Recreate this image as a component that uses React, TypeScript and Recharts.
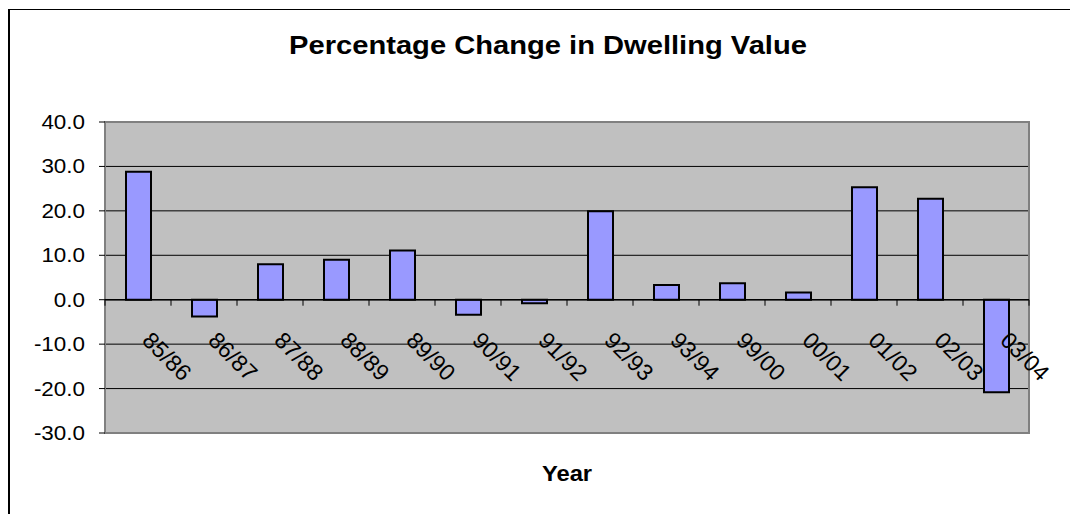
import React from 'react';
import {
  BarChart, Bar, XAxis, YAxis, CartesianGrid, ReferenceLine, ReferenceArea
} from 'recharts';

// Year-on-year percentage change in dwelling value
const years = ['85/86', '86/87', '87/88', '88/89', '89/90', '90/91', '91/92', '92/93', '93/94', '99/00', '00/01', '01/02', '02/03', '03/04'];
const changes = [28.8, -3.8, 8.0, 9.0, 11.1, -3.4, -0.8, 19.9, 3.3, 3.7, 1.6, 25.3, 22.7, -20.8];
const yTicks = [-30, -20, -10, 0, 10, 20, 30, 40];

const data = years.map((year, i) => ({ year, change: changes[i] }));

const FONT = '"Liberation Sans", Arial, sans-serif';
const CHART_W = 1070;
const CHART_H = 506;
const MARGIN = { top: 114, right: 49, bottom: 0, left: 0 };
const Y_AXIS_W = 97;
const X_AXIS_H = 81;
const PLOT_W = CHART_W - MARGIN.left - MARGIN.right - Y_AXIS_W;
const PLOT_H = CHART_H - MARGIN.top - MARGIN.bottom - X_AXIS_H;
const Y_MIN = yTicks[0];
const Y_MAX = yTicks[yTicks.length - 1];
// y of the zero line, where the category axis crosses
const ZERO_Y = MARGIN.top + (Y_MAX / (Y_MAX - Y_MIN)) * PLOT_H;
const BAND = PLOT_W / years.length;
const STRETCH = 1.15;

const YTick = ({ x, y, payload }: any) => (
  <text
    transform={`translate(${x},${y}) scale(${STRETCH},1)`}
    textAnchor="end"
    dominantBaseline="central"
    fontSize={19.5}
    fontFamily={FONT}
    fill="#000"
  >
    {Number(payload.value).toFixed(1)}
  </text>
);

// category labels hang off the zero line, with tick marks between categories
const XTick = ({ x, payload, index }: any) => {
  const left = x - BAND / 2;
  const right = x + BAND / 2;
  return (
    <g>
      <line x1={left} x2={left} y1={ZERO_Y} y2={ZERO_Y + 6} stroke="#000" />
      {index === years.length - 1 && (
        <line x1={right} x2={right} y1={ZERO_Y} y2={ZERO_Y + 6} stroke="#000" />
      )}
      <text
        transform={`translate(${x + 3},${ZERO_Y + 42}) rotate(45)`}
        textAnchor="start"
        fontSize={23}
        fontFamily={FONT}
        fill="#000"
      >
        {payload.value}
      </text>
    </g>
  );
};

export default function App() {
  return (
    <div style={{ position: 'relative', width: CHART_W, height: CHART_H, background: '#fff' }}>
      <div
        style={{
          position: 'absolute', left: 0, top: 1, width: 2, height: CHART_H - 1,
          background: '#000', zIndex: 2, pointerEvents: 'none'
        }}
      />
      <div
        style={{
          position: 'absolute', left: 0, top: 1, width: CHART_W, height: 1,
          background: '#000', zIndex: 2, pointerEvents: 'none'
        }}
      />
      <div
        style={{
          position: 'absolute', left: 539.5, top: 24, whiteSpace: 'nowrap',
          transform: `translateX(-50%) scaleX(1.12)`,
          fontFamily: FONT, fontWeight: 'bold', fontSize: 26, lineHeight: '26px'
        }}
      >
        Percentage Change in Dwelling Value
      </div>
      <BarChart width={CHART_W} height={CHART_H} data={data} margin={MARGIN} barSize={25}>
        <CartesianGrid vertical={false} stroke="#000" fill="#c0c0c0" fillOpacity={1} />
        <ReferenceArea y1={Y_MIN} y2={Y_MAX} fill="none" stroke="#808080" strokeWidth={2} ifOverflow="visible" />
        <XAxis
          dataKey="year"
          height={X_AXIS_H}
          interval={0}
          axisLine={false}
          tickLine={false}
          tick={<XTick />}
        />
        <YAxis
          width={Y_AXIS_W}
          domain={[Y_MIN, Y_MAX]}
          ticks={yTicks}
          axisLine={false}
          tickLine={{ stroke: '#000' }}
          tickSize={6}
          tickMargin={14}
          tick={<YTick />}
        />
        <ReferenceLine y={0} stroke="#000" strokeWidth={1.5} />
        <Bar dataKey="change" fill="#9999ff" stroke="#000" strokeWidth={2} isAnimationActive={false} />
      </BarChart>
      <div
        style={{
          position: 'absolute', left: 559, top: 455, whiteSpace: 'nowrap',
          transform: 'translateX(-50%) scaleX(1.08)',
          fontFamily: FONT, fontWeight: 'bold', fontSize: 22, lineHeight: '22px'
        }}
      >
        Year
      </div>
    </div>
  );
}
